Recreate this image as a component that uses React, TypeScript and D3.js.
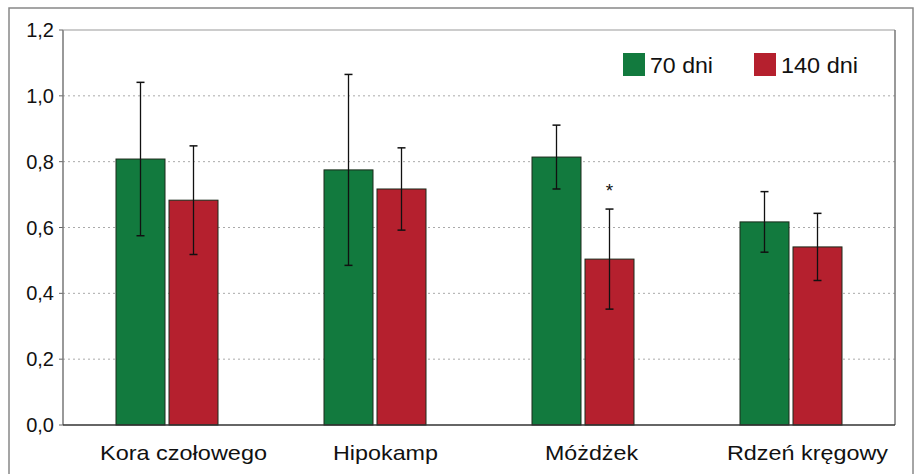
import React from "react";
import * as d3 from "d3";

const categories = ["Kora czołowego", "Hipokamp", "Móżdżek", "Rdzeń kręgowy"];
const seriesNames = ["70 dni", "140 dni"];
const values70 = [0.808, 0.775, 0.814, 0.617];
const err70 = [0.233, 0.29, 0.097, 0.092];
const values140 = [0.683, 0.717, 0.504, 0.541];
const err140 = [0.165, 0.125, 0.152, 0.102];
const significant140 = [false, false, true, false];
const yTicks = [0, 0.2, 0.4, 0.6, 0.8, 1.0, 1.2];
const colors = ["#127a3e", "#b5202e"];

export default function App() {
  const W = 915, H = 474;
  const left = 63, right = 895, top = 30, bottom = 425;
  const y = d3.scaleLinear().domain([0, 1.2]).range([bottom, top]);
  const x0 = d3.scaleBand().domain(categories).range([left, right]);
  const barW = 49, gap = 4;
  const fmt = (v: number) => v.toFixed(1).replace(".", ",");
  const series = [
    { vals: values70, errs: err70 },
    { vals: values140, errs: err140 },
  ];
  const labelShift = [16.5, 10.5, 8.5, 16.5];
  const labelLen = [167, 105, 93, 161];
  const legendX = [623, 754];
  const legendLen = [63, 77];
  return (
    <svg width={W} height={H} style={{ position: "absolute", left: 0, top: 0, background: "#fff" }}
      fontFamily="Liberation Sans, Arial, sans-serif">
      <rect x={9} y={8} width={904} height={470} fill="#fff" stroke="#888" strokeWidth={1.5} />
      {yTicks.map((t) => (
        <g key={t}>
          {t > 0 && t < 1.2 && (
            <line x1={left} x2={right} y1={y(t)} y2={y(t)} stroke="#aaa" strokeDasharray="2,3" strokeWidth={1} />
          )}
          <line x1={left - 4} x2={left} y1={y(t)} y2={y(t)} stroke="#666" />
          <text x={54} y={y(t)} dy="0.35em" textAnchor="end" fontSize={20} fill="#111">{fmt(t)}</text>
        </g>
      ))}
      <line x1={left} x2={left} y1={top} y2={bottom} stroke="#777" strokeWidth={1.5} />
      <line x1={left} x2={right} y1={top} y2={top} stroke="#999" strokeWidth={1} />
      <line x1={right} x2={right} y1={top} y2={bottom} stroke="#777" strokeWidth={1.5} />
      {categories.map((c, i) => {
        const cx = (x0(c) as number) + x0.bandwidth() / 2;
        return (
          <g key={c}>
            {series.map((s, si) => {
              const bx = si === 0 ? cx - gap / 2 - barW : cx + gap / 2;
              const v = s.vals[i], e = s.errs[i];
              const ex = bx + barW / 2;
              return (
                <g key={si}>
                  <rect x={bx} y={y(v)} width={barW} height={bottom - y(v)} fill={colors[si]} stroke="#1a2a1a" strokeWidth={1} />
                  <line x1={ex} x2={ex} y1={y(v + e)} y2={y(v - e)} stroke="#111" strokeWidth={1.3} />
                  <line x1={ex - 4} x2={ex + 4} y1={y(v + e)} y2={y(v + e)} stroke="#111" strokeWidth={1.5} />
                  <line x1={ex - 4} x2={ex + 4} y1={y(v - e)} y2={y(v - e)} stroke="#111" strokeWidth={1.5} />
                  {si === 1 && significant140[i] && (
                    <text x={ex} y={y(v + e) - 12} textAnchor="middle" fontSize={19} fill="#111">*</text>
                  )}
                </g>
              );
            })}
            <text x={cx + labelShift[i]} y={460} textAnchor="middle" fontSize={21} fill="#111"
              textLength={labelLen[i]} lengthAdjust="spacingAndGlyphs">{c}</text>
          </g>
        );
      })}
      <line x1={left} x2={right} y1={bottom} y2={bottom} stroke="#333" strokeWidth={1.5} />
      {seriesNames.map((n, i) => {
        const lx = legendX[i];
        return (
          <g key={n}>
            <rect x={lx} y={53} width={22} height={23} fill={colors[i]} />
            <text x={lx + 27} y={73} fontSize={22} fill="#111"
              textLength={legendLen[i]} lengthAdjust="spacingAndGlyphs">{n}</text>
          </g>
        );
      })}
    </svg>
  );
}
